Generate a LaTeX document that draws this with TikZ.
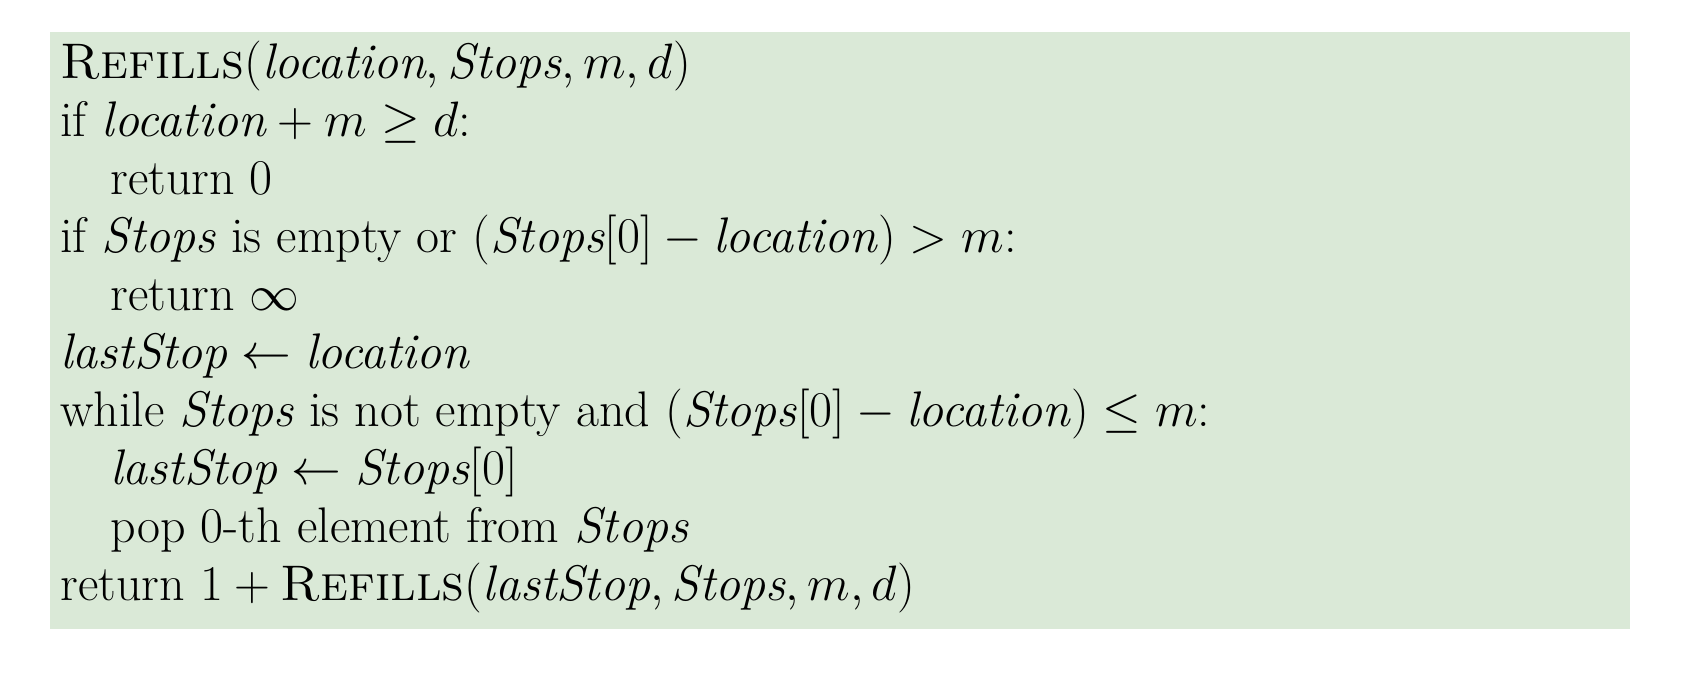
\documentclass[tikz,border=0pt]{standalone}
\usepackage{amsmath}
\definecolor{boxgreen}{RGB}{218,233,215}
\newcommand{\V}[1]{\textit{#1}}
\begin{document}
\begin{tikzpicture}[x=0.5pt,y=-0.5pt,
  codeline/.style={anchor=base west, inner sep=0pt, font=\fontsize{25}{30}\selectfont}]
\useasboundingbox (0,0) rectangle (1682,682);
\fill[boxgreen] (50,32) rectangle (1630,629);
\node[codeline] (l1) at (60,78) {\textsc{Refills}($\V{location},\V{Stops},m,d$)};
\node[codeline] (l2) at (60,136) {if \V{location}${}+m\geq d$:};
\node[codeline] (l3) at (110,194) {return 0};
\node[codeline] (l4) at (60,252) {if \V{Stops} is empty or (\V{Stops}[0]${}-{}$\V{location})${}>m$:};
\node[codeline] (l5) at (110,310) {return $\infty$};
\node[codeline] (l6) at (60,368) {\V{lastStop}${}\leftarrow{}$\V{location}};
\node[codeline] (l7) at (60,426) {while \V{Stops} is not empty and (\V{Stops}[0]${}-{}$\V{location})${}\leq m$:};
\node[codeline] (l8) at (110,484) {\V{lastStop}${}\leftarrow{}$\V{Stops}[0]};
\node[codeline] (l9) at (110,542) {pop 0-th element from \V{Stops}};
\node[codeline] (l10) at (60,600) {return 1${}+{}$\textsc{Refills}($\V{lastStop},\V{Stops},m,d$)};
\end{tikzpicture}
\end{document}
